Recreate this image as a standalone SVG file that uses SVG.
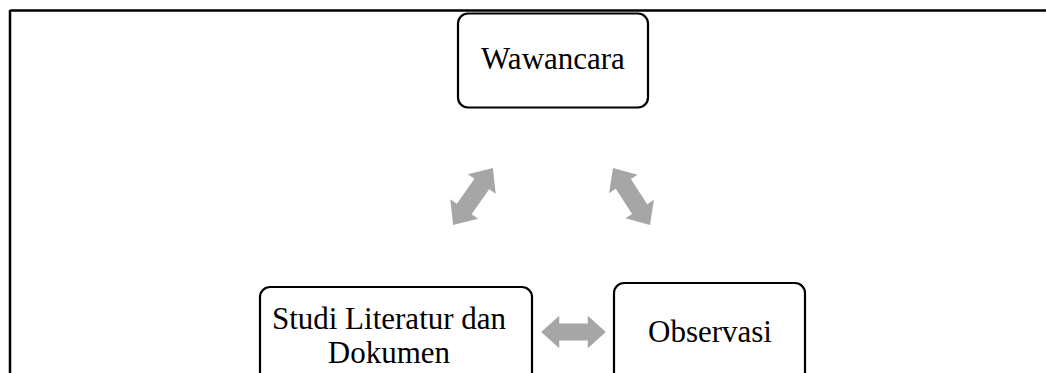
<svg xmlns="http://www.w3.org/2000/svg" width="1046" height="373" viewBox="0 0 1046 373">
<defs>
<style>
.box{fill:#fff;stroke:#000;stroke-width:2.2}
.lbl{font-family:"Liberation Serif","Times New Roman",serif;font-size:31px;fill:#000;text-anchor:middle}
.arr{fill:#a6a6a6}
</style>
<path id="dbl" d="M-34,0 L-15,-17 L-15,-9 L15,-9 L15,-17 L34,0 L15,17 L15,9 L-15,9 L-15,17 Z"/>
</defs>
<rect width="1046" height="373" fill="#fff"/>
<g id="frame">
<line x1="10" y1="10.5" x2="1046" y2="10.5" stroke="#000" stroke-width="2.5"/>
<line x1="10" y1="10" x2="10" y2="373" stroke="#000" stroke-width="2.5"/>
</g>
<g id="connectors">
<use href="#dbl" class="arr" transform="translate(473,196.5) rotate(-55) scale(1.02,1)"/>
<use href="#dbl" class="arr" transform="translate(631.5,196.5) rotate(57)"/>
<use href="#dbl" class="arr" transform="translate(573.5,332) scale(0.95,0.95)"/>
</g>
<g id="wawancara">
<rect class="box" x="458" y="13.5" width="190" height="94" rx="10"/>
<text class="lbl" x="553" y="69">Wawancara</text>
</g>
<g id="studi">
<rect class="box" x="260" y="287" width="272" height="110" rx="10"/>
<text class="lbl" x="389" y="329" font-size="30">Studi Literatur dan</text>
<text class="lbl" x="389" y="363" font-size="30">Dokumen</text>
</g>
<g id="observasi">
<rect class="box" x="614" y="283" width="191" height="110" rx="10"/>
<text class="lbl" x="710" y="342">Observasi</text>
</g>
</svg>
